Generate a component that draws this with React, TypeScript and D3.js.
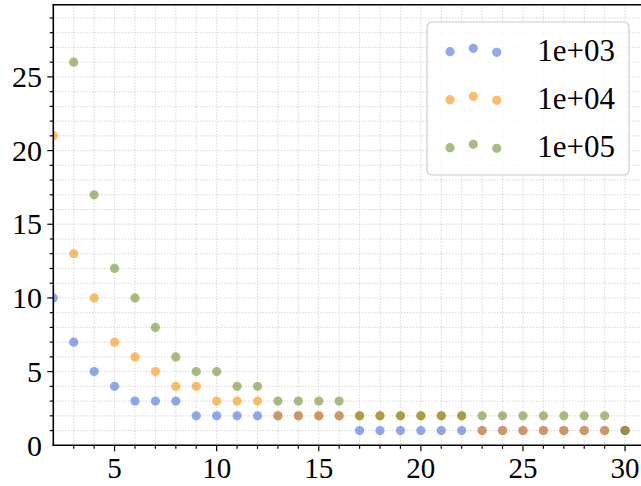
import React from "react";
import * as d3 from "d3";

const xValues = [2, 3, 4, 5, 6, 7, 8, 9, 10, 11, 12, 13, 14, 15, 16, 17, 18, 19, 20, 21, 22, 23, 24, 25, 26, 27, 28, 29, 30];
const values1e3 = [10, 7, 5, 4, 3, 3, 3, 2, 2, 2, 2, 2, 2, 2, 2, 1, 1, 1, 1, 1, 1, 1, 1, 1, 1, 1, 1, 1, 1];
const values1e4 = [21, 13, 10, 7, 6, 5, 4, 4, 3, 3, 3, 2, 2, 2, 2, 2, 2, 2, 2, 2, 2, 1, 1, 1, 1, 1, 1, 1, 1];
const values1e5 = [null, 26, 17, 12, 10, 8, 6, 5, 5, 4, 4, 3, 3, 3, 3, 2, 2, 2, 2, 2, 2, 2, 2, 2, 2, 2, 2, 2, 1];
const seriesLabels = ["1e+03", "1e+04", "1e+05"];
const seriesColors = ["#4169e1", "#ff8c00", "#6b8e23"];
const xTicks = [5, 10, 15, 20, 25, 30];
const yTicks = [0, 5, 10, 15, 20, 25];

const W = 641;
const H = 486;
const L = 53.3;
const T = 4.7;
const B = 445.3;
const FONT = "'Liberation Serif', 'DejaVu Serif', serif";

export default function App() {
  const x = d3.scaleLinear().domain([2, 31]).range([L, L + 29 * 20.42]);
  const y = d3.scaleLinear().domain([0, 29.9]).range([B, T]);
  const allSeries = [values1e3, values1e4, values1e5];
  const minorX = d3.range(2, 32, 1);
  const minorY = d3.range(0, 30, 1);
  const alpha = 0.58;
  const r = 4.6;

  const legX = 427;
  const legY = 22;
  const legW = 202;
  const legH = 153;
  const rowY = [50.5, 98.5, 146.5];
  const dotDX = [450, 473.3, 496.7];
  const dotDY = [1.2, -2.2, 1.8];

  return (
    <svg width={W} height={H} style={{ position: "absolute", left: 0, top: 0, background: "#fff" }}>
      <defs>
        <clipPath id="plotclip">
          <rect x={L} y={T} width={W - L} height={B - T} />
        </clipPath>
      </defs>
      <g clipPath="url(#plotclip)">
        {minorX.map((v) => (
          <line key={"gx" + v} x1={x(v)} x2={x(v)} y1={T} y2={B} stroke="#bdbdbd" strokeWidth={0.9} strokeDasharray="1,2" />
        ))}
        {minorY.map((v) => (
          <line key={"gy" + v} x1={L} x2={W} y1={y(v)} y2={y(v)} stroke="#bdbdbd" strokeWidth={0.9} strokeDasharray="1,2" />
        ))}
        {allSeries.map((vals, si) => (
          <g key={"s" + si}>
            {vals.map((v, i) =>
              v == null ? null : (
                <circle key={i} cx={x(xValues[i])} cy={y(v)} r={r} fill={seriesColors[si]} fillOpacity={alpha} />
              )
            )}
          </g>
        ))}
      </g>
      {/* spines */}
      <line x1={L} x2={L} y1={T} y2={B} stroke="#000" strokeWidth={1.6} />
      <line x1={L - 0.8} x2={W} y1={B} y2={B} stroke="#000" strokeWidth={1.6} />
      <line x1={L - 0.8} x2={W} y1={T} y2={T} stroke="#000" strokeWidth={1.6} />
      {/* x ticks */}
      {minorX.filter((v) => v > 2 && v <= 31).map((v) => (
        <line key={"tx" + v} x1={x(v)} x2={x(v)} y1={B} y2={B + (xTicks.includes(v) ? 6 : 3.5)} stroke="#000" strokeWidth={1.2} />
      ))}
      {xTicks.map((v) => (
        <text key={"lx" + v} x={x(v)} y={478} textAnchor="middle" fontFamily={FONT} fontSize={29} fill="#000">
          {v}
        </text>
      ))}
      {/* y ticks */}
      {minorY.filter((v) => v > 0).map((v) => (
        <line key={"ty" + v} x1={L} x2={L - (yTicks.includes(v) ? 6 : 3.5)} y1={y(v)} y2={y(v)} stroke="#000" strokeWidth={1.2} />
      ))}
      {yTicks.map((v) => (
        <text key={"ly" + v} x={42} y={y(v)} dy="0.34em" textAnchor="end" fontFamily={FONT} fontSize={30} fill="#000">
          {v}
        </text>
      ))}
      {/* legend */}
      <rect x={legX} y={legY} width={legW} height={legH} rx={5} ry={5} fill="#fff" fillOpacity={0.8} stroke="#cccccc" strokeWidth={1.2} />
      {seriesLabels.map((lab, si) => (
        <g key={"leg" + si}>
          {dotDX.map((dx, k) => (
            <circle key={k} cx={dx} cy={rowY[si] + dotDY[k]} r={r} fill={seriesColors[si]} fillOpacity={alpha} />
          ))}
          <text x={615} y={rowY[si]} dy="0.34em" textAnchor="end" fontFamily={FONT} fontSize={31} fill="#000">
            {lab}
          </text>
        </g>
      ))}
    </svg>
  );
}
